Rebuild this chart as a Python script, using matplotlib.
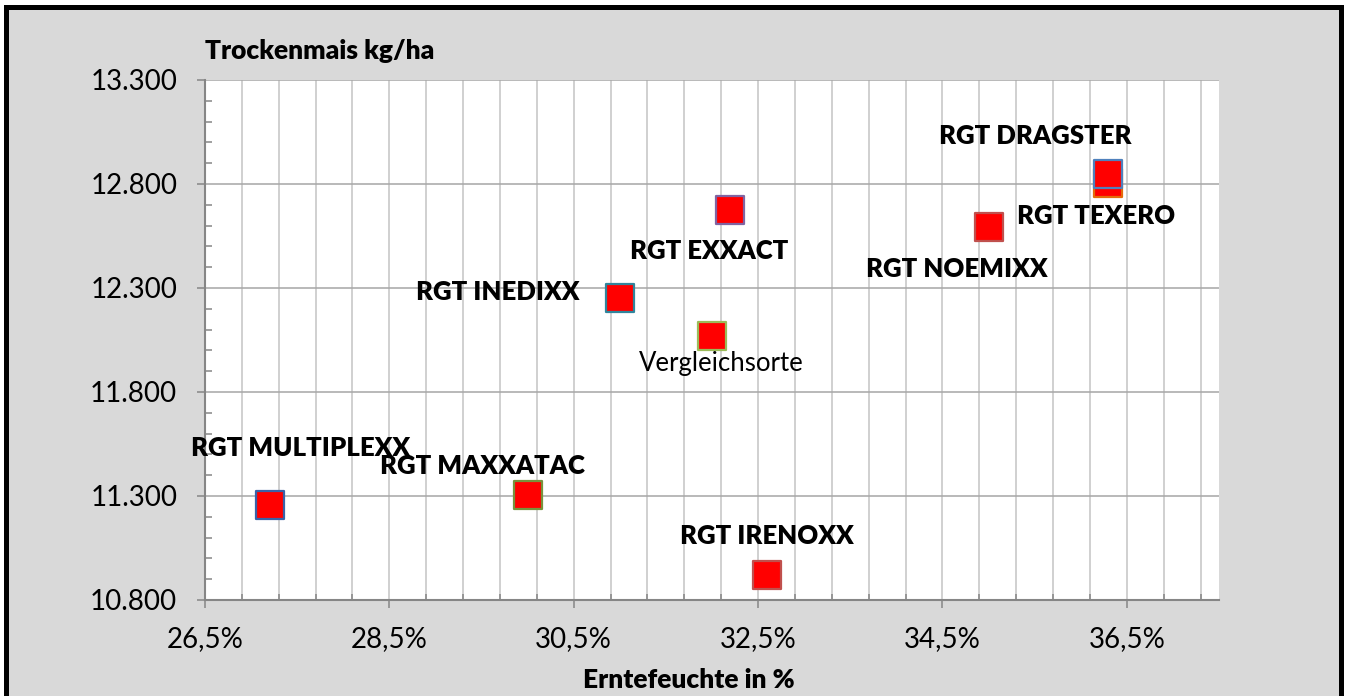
import numpy as np
import matplotlib
matplotlib.use("Agg")
import matplotlib.pyplot as plt
from matplotlib.ticker import FuncFormatter, FixedLocator
from matplotlib.patches import Rectangle

plt.rcParams['font.family'] = ['Lato', 'DejaVu Sans']

# Sorten: Erntefeuchte (%) und Trockenmais (kg/ha)
sorten = ["RGT MULTIPLEXX", "RGT MAXXATAC", "Vergleichsorte", "RGT INEDIXX",
          "RGT EXXACT", "RGT IRENOXX", "RGT NOEMIXX", "RGT TEXERO", "RGT DRAGSTER"]
feuchte = [27.2, 30.0, 32.0, 31.0, 32.2, 32.6, 35.0, 36.3, 36.3]
ertrag = [11255, 11305, 12070, 12250, 12675, 10920, 12595, 12805, 12850]

# Stil je Punkt: Randfarbe, Label-Versatz (Pixel), fett
randfarben = ["#3a62a8", "#77933c", "#9bbb59", "#31859c", "#8064a2",
              "#c0504d", "#c0504d", "#e46c0a", "#4f81bd"]
versatz = [(31, 57), (-45, 29), (9, -28), (-122, 6), (-21, -41),
           (0, 39), (-32, -42), (-12, -33), (-73, 38)]
fett = [True, True, False, True, True, True, True, True, True]

fig = plt.figure(figsize=(13.46, 6.96), dpi=100, facecolor="white")
fig.patches.append(Rectangle((5.5 / 1346, -0.05), 1335 / 1346, 1.05 - 7.5 / 696,
                             transform=fig.transFigure, facecolor="#d9d9d9",
                             edgecolor="black", linewidth=3.6, zorder=-10))

ax = fig.add_axes([205 / 1346, 96 / 696, 1014 / 1346, 520 / 696])
ax.set_facecolor("white")
ax.set_xlim(26.5, 37.5)
ax.set_ylim(10800, 13300)

ax.xaxis.set_major_locator(FixedLocator(np.arange(26.5, 37.5, 2.0)))
ax.xaxis.set_minor_locator(FixedLocator(np.arange(26.5, 37.5, 0.4)))
ax.yaxis.set_major_locator(FixedLocator(np.arange(10800, 13301, 500)))
ax.yaxis.set_minor_locator(FixedLocator(np.arange(10800, 13300, 100)))

ax.xaxis.set_major_formatter(FuncFormatter(lambda v, p: f"{v:.1f}%".replace(".", ",")))
ax.yaxis.set_major_formatter(FuncFormatter(lambda v, p: f"{v:,.0f}".replace(",", ".")))

ax.grid(which="both", axis="x", color="#c3c3c3", lw=1.1, zorder=0)
ax.grid(which="major", axis="y", color="#a6a6a6", lw=1.1, zorder=0)
ax.set_axisbelow(True)

for s in ["top", "right"]:
    ax.spines[s].set_visible(False)
for s in ["left", "bottom"]:
    ax.spines[s].set_color("#868686")
    ax.spines[s].set_linewidth(1.5)

ax.tick_params(axis="x", which="major", direction="out", length=6, width=1.1,
               color="#868686", labelsize=20, pad=13)
ax.tick_params(axis="x", which="minor", direction="in", length=4, width=1.1,
               color="#868686")
ax.tick_params(axis="y", which="major", direction="out", length=6, width=1.1,
               color="#868686", labelsize=20, pad=14)
ax.tick_params(axis="y", which="minor", direction="in", length=5, width=1.1,
               color="#868686")

for i in range(len(sorten)):
    ax.scatter(feuchte[i], ertrag[i], s=390, marker="s", color="red",
               edgecolors=randfarben[i], linewidths=1.6, zorder=3, clip_on=False)
    ax.annotate(sorten[i], (feuchte[i], ertrag[i]), xytext=versatz[i],
                textcoords="offset pixels", ha="center", va="center",
                fontsize=18.5, fontweight="heavy" if fett[i] else "normal", zorder=4)

fig.text(205 / 1346, 1 - 51 / 696, "Trockenmais kg/ha", ha="left", va="center",
         fontsize=19, fontweight="heavy")
fig.text(689 / 1346, 1 - 680 / 696, "Erntefeuchte in %", ha="center", va="center",
         fontsize=19, fontweight="heavy")

fig.savefig("out.png", dpi=100)
